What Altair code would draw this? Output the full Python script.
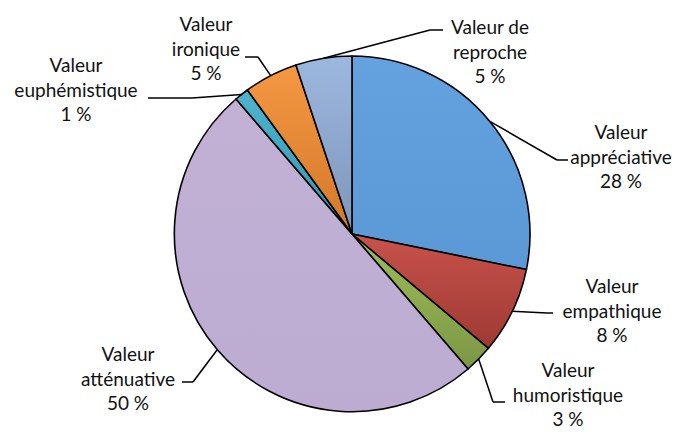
import math
import altair as alt
import pandas as pd

# data
categories = ["appréciative", "empathique", "humoristique", "atténuative",
              "euphémistique", "ironique", "reproche"]
values = [28.2, 7.9, 2.6, 50.0, 1.3, 4.9, 5.1]
pct_labels = ["28 %", "8 %", "3 %", "50 %", "1 %", "5 %", "5 %"]
label_names = ["Valeur\nappréciative", "Valeur\nempathique", "Valeur\nhumoristique",
               "Valeur\natténuative", "Valeur\neuphémistique", "Valeur\nironique",
               "Valeur de\nreproche"]

# layout (offsets from pie centre, px, y up) - first line of each label
label_x = [269, 260, 216, -224, -276, -146, 138]
label_y = [101, -53, -137, -121, 168, 209, 206]
elbow_x = [205, 195, 141, -159, -160, -94, 78]
elbow_y = [74, -79, -168, -148, 136, 177, 204]
end_x = [216, 201, 153, -170, -204, -107, 91]
end_y = [74, -79, -168, -148, 136, 177, 204]

# styles
fills = {
    "appréciative": ("#63a2de", "#5b98d6"),
    "empathique": ("#c8524b", "#9e3a33"),
    "humoristique": ("#9dbd5a", "#7c9744"),
    "atténuative": ("#c2b1d5", "#bcacd1"),
    "euphémistique": ("#4fb3cc", "#2f96b2"),
    "ironique": ("#f59842", "#d3772a"),
    "reproche": ("#9db8df", "#7d95b8"),
}
R = 178
W, H = 666, 422
CX, CY = 344, 226

df = pd.DataFrame({
    "cat": categories,
    "value": values,
    "order": list(range(len(categories))),
    "label": [f"{n}\n{p}" for n, p in zip(label_names, pct_labels)],
    "lx": label_x, "ly": label_y,
    "ex": elbow_x, "ey": elbow_y,
    "fx": end_x, "fy": end_y,
})

xs = alt.Scale(domain=[-CX, W - CX], range=[0, W], nice=False, zero=False)
ys = alt.Scale(domain=[-(H - CY), CY], range=[H, 0], nice=False, zero=False)
ts = alt.Scale(domain=[0, 100], range=[0, 2 * math.pi])

base = alt.Chart(df).transform_window(
    cend="sum(value)", sort=[alt.SortField("order")], frame=[None, 0]
).transform_calculate(
    cstart="datum.cend - datum.value",
    mid="(datum.cend - datum.value / 2) / 100 * 2 * PI",
).transform_calculate(
    sx=f"{R} * sin(datum.mid)",
    sy=f"{R} * cos(datum.mid)",
)

layers = []
for c in categories:
    top, bottom = fills[c]
    grad = alt.Gradient(
        gradient="linear",
        stops=[alt.GradientStop(color=top, offset=0),
               alt.GradientStop(color=bottom, offset=1)],
        x1=0, x2=0, y1=0, y2=1,
    )
    layers.append(
        base.transform_filter(alt.datum.cat == c).mark_arc(
            fill=grad, stroke="black", strokeWidth=1.6, outerRadius=R,
            strokeJoin="round",
        ).encode(
            x=alt.X(datum=0, type="quantitative", scale=xs, axis=None),
            y=alt.Y(datum=0, type="quantitative", scale=ys, axis=None),
            theta=alt.Theta("cstart:Q", scale=ts),
            theta2="cend:Q",
        )
    )

seg1 = base.mark_rule(color="black", strokeWidth=1.5).encode(
    x=alt.X("sx:Q", scale=xs, axis=None),
    y=alt.Y("sy:Q", scale=ys, axis=None),
    x2="ex:Q", y2="ey:Q",
)
seg2 = base.mark_rule(color="black", strokeWidth=1.5).encode(
    x=alt.X("ex:Q", scale=xs, axis=None),
    y=alt.Y("ey:Q", scale=ys, axis=None),
    x2="fx:Q", y2="fy:Q",
)
texts = base.mark_text(
    font="Lato", fontSize=19, lineBreak="\n", lineHeight=24.5,
    align="center", baseline="middle", color="#111111",
).encode(
    x=alt.X("lx:Q", scale=xs, axis=None),
    y=alt.Y("ly:Q", scale=ys, axis=None),
    text="label:N",
)

chart = alt.layer(*layers, seg1, seg2, texts).properties(
    width=W, height=H, padding=0, autosize=alt.AutoSizeParams(type="none"),
).configure_view(stroke=None)

chart.save("out.html", embed_options={"renderer": "svg", "actions": False})
